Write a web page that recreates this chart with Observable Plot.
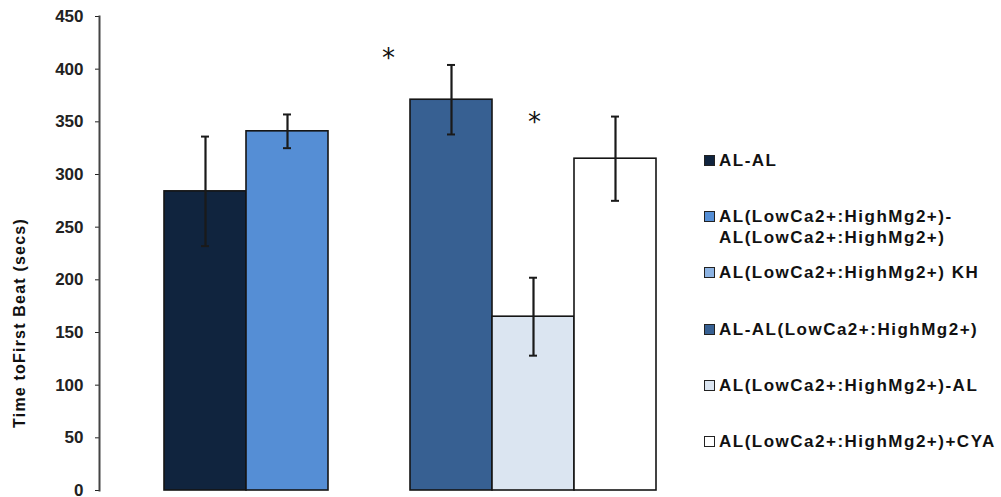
<!DOCTYPE html>
<html>
<head>
<meta charset="utf-8">
<script src="https://cdn.jsdelivr.net/npm/d3@7"></script>
<script src="https://cdn.jsdelivr.net/npm/@observablehq/plot@0.6"></script>
<style>
  html, body { margin: 0; padding: 0; background: #fff; }
  #wrap { position: relative; width: 1001px; height: 497px; overflow: hidden; font-family: "Liberation Sans", Arial, sans-serif; }
  #chart { position: absolute; left: 0; top: 0; }
  #chart svg { overflow: visible; }
  #ylabel { position: absolute; left: 20px; top: 323px; transform: translate(-50%, -50%) rotate(-90deg); white-space: nowrap;
            font-weight: bold; font-size: 16px; letter-spacing: 1.2px; color: #111; }
  #legend { position: absolute; left: 704px; top: 0; width: 297px; height: 497px; }
  .item { position: absolute; left: 0; display: flex; align-items: flex-start; font-weight: bold; font-size: 17px; letter-spacing: 1.5px; color: #111; line-height: 21px; }
  .sw { width: 9px; height: 9px; border: 1px solid #222; margin-top: 5px; margin-right: 4px; flex: none; }
</style>
</head>
<body>
<div id="wrap">
  <div id="chart"></div>
  <div id="ylabel"></div>
  <div id="legend"></div>
</div>
<script>
// ---- data ----
const categories = [
  "AL-AL",
  "AL(LowCa2+:HighMg2+)-AL(LowCa2+:HighMg2+)",
  "AL(LowCa2+:HighMg2+) KH",
  "AL-AL(LowCa2+:HighMg2+)",
  "AL(LowCa2+:HighMg2+)-AL",
  "AL(LowCa2+:HighMg2+)+CYA"
];
const legendLines = [
  ["AL-AL"],
  ["AL(LowCa2+:HighMg2+)-", "AL(LowCa2+:HighMg2+)"],
  ["AL(LowCa2+:HighMg2+) KH"],
  ["AL-AL(LowCa2+:HighMg2+)"],
  ["AL(LowCa2+:HighMg2+)-AL"],
  ["AL(LowCa2+:HighMg2+)+CYA"]
];
const means  = [284, 341, 0, 371, 165, 315];
const errors = [52, 16, null, 33, 37, 40];
const colors = ["#10243e", "#558ed5", "#8db3e2", "#376092", "#dbe5f1", "#ffffff"];
const yTicks = [0, 50, 100, 150, 200, 250, 300, 350, 400, 450];
const yLabel = "Time toFirst Beat (secs)";
const star1 = [{cat: "AL(LowCa2+:HighMg2+) KH", y: 410}];
const star2 = [{cat: "AL(LowCa2+:HighMg2+)-AL", y: 349}];
const legendTops = [150, 206, 262, 319, 375, 431];

const rows = categories.map((c, i) => ({cat: c, value: means[i], err: errors[i], color: colors[i]}));
const errRows = rows.filter(d => d.err != null);

const chart = Plot.plot({
  width: 690,
  height: 497,
  marginLeft: 99,
  marginRight: 0,
  marginTop: 16,
  marginBottom: 7,
  style: {fontFamily: "'Liberation Sans', Arial, sans-serif", fontSize: "17px", fontWeight: "bold", color: "#222", background: "white", overflow: "visible"},
  x: {domain: categories, range: [162, 658], padding: 0, axis: null},
  y: {domain: [0, 450], ticks: yTicks, tickSize: 4, tickPadding: 12, label: null},
  color: {type: "identity"},
  marks: [
    Plot.frame({anchor: "left", stroke: "#444", strokeWidth: 2}),
    Plot.barY(rows, {x: "cat", y: "value", fill: "color", stroke: "#151515", strokeWidth: 1.6}),
    Plot.ruleY(rows, {x: "cat", y: 0, stroke: "#333", strokeWidth: 2}),
    Plot.ruleX(errRows, {x: "cat", y1: d => d.value - d.err, y2: d => d.value + d.err, stroke: "#1a1a1a", strokeWidth: 2.2}),
    Plot.tickY(errRows, {x: "cat", y: d => d.value - d.err, stroke: "#1a1a1a", strokeWidth: 2, insetLeft: 37, insetRight: 37}),
    Plot.tickY(errRows, {x: "cat", y: d => d.value + d.err, stroke: "#1a1a1a", strokeWidth: 2, insetLeft: 37, insetRight: 37}),
    Plot.text(star1, {x: "cat", y: "y", text: () => "*", dx: 19, fontSize: 26, fontWeight: "normal", fontFamily: "'DejaVu Sans', sans-serif", fill: "#111"}),
    Plot.text(star2, {x: "cat", y: "y", text: () => "*", dx: 1, fontSize: 26, fontWeight: "normal", fontFamily: "'DejaVu Sans', sans-serif", fill: "#111"})
  ]
});
document.getElementById("chart").appendChild(chart);
document.getElementById("ylabel").textContent = yLabel;

const legend = document.getElementById("legend");
legendLines.forEach((lines, i) => {
  const item = document.createElement("div");
  item.className = "item";
  item.style.top = legendTops[i] + "px";
  const sw = document.createElement("div");
  sw.className = "sw";
  sw.style.background = colors[i];
  const txt = document.createElement("div");
  lines.forEach(l => { const d = document.createElement("div"); d.textContent = l; txt.appendChild(d); });
  item.appendChild(sw);
  item.appendChild(txt);
  legend.appendChild(item);
});
</script>
</body>
</html>
